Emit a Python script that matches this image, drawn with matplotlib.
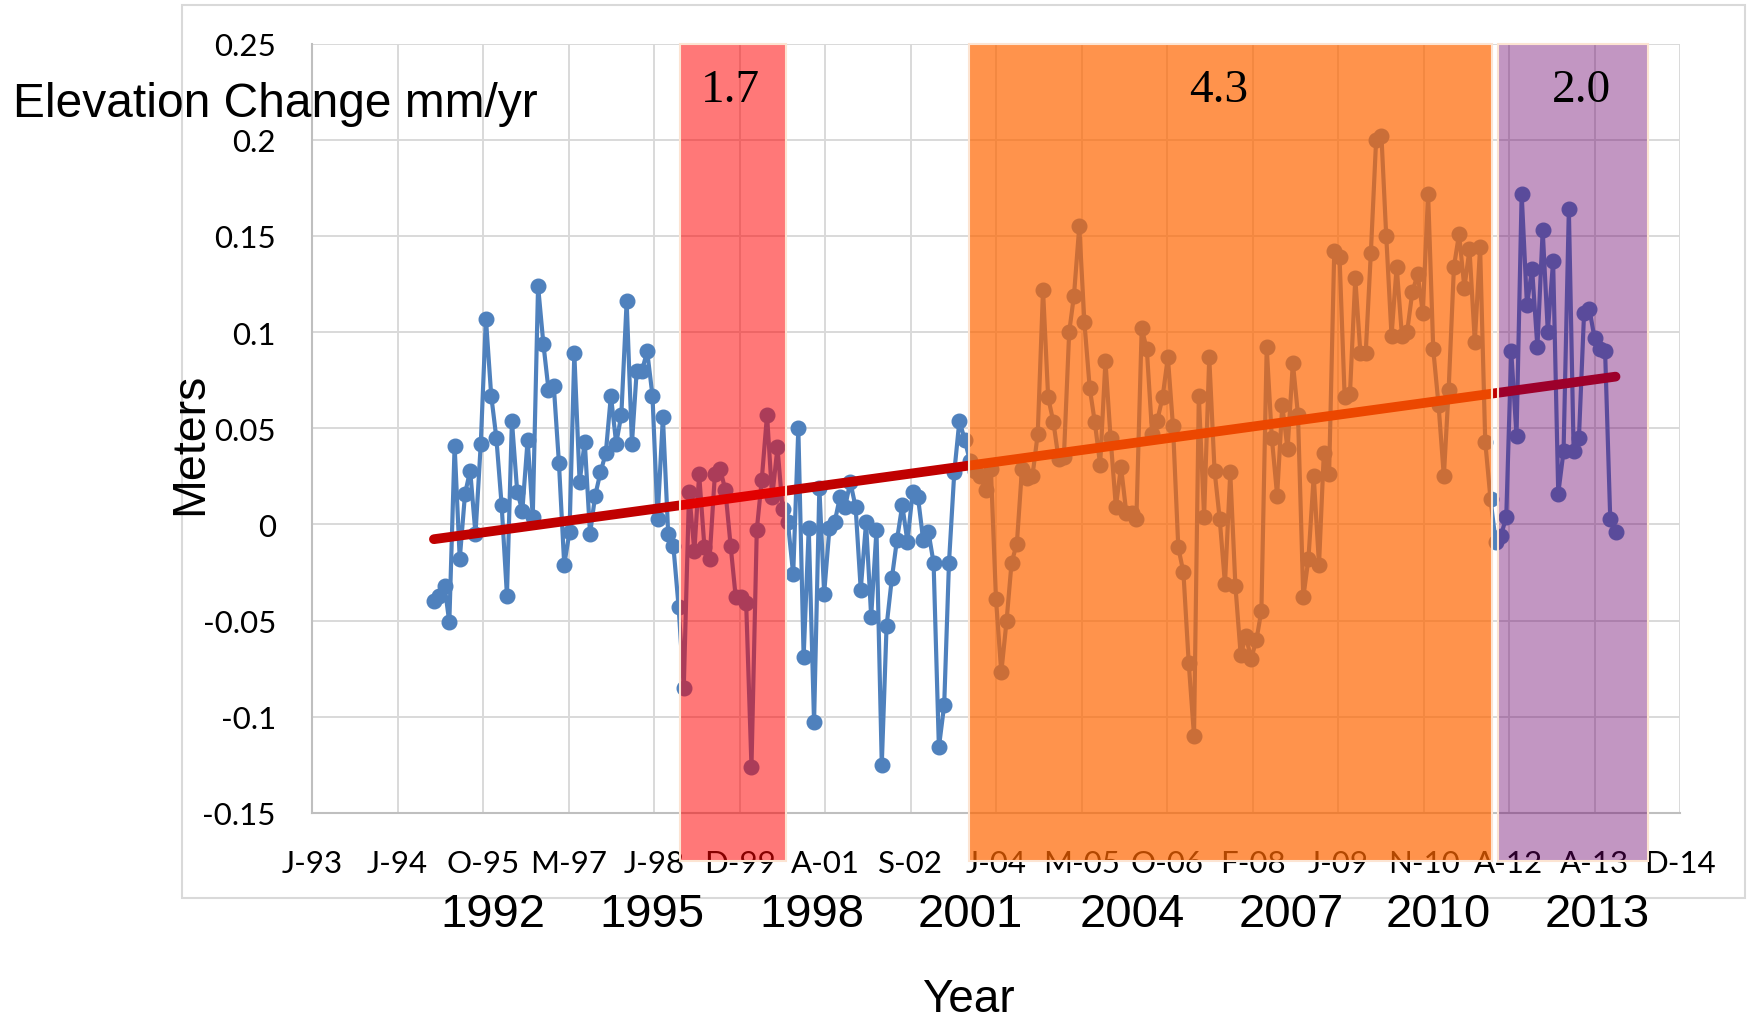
import numpy as np
import matplotlib
matplotlib.use('Agg')
import matplotlib.pyplot as plt
import matplotlib.dates as mdates
from matplotlib.patches import Rectangle

plt.rcParams['font.family'] = ['Liberation Sans', 'DejaVu Sans']

# monthly elevation change (m), Dec 1994 - Nov 2013
elevation = [
    -0.040, -0.037, -0.032, -0.051, 0.041, -0.018, 0.016, 0.028, -0.005, 0.042,
    0.107, 0.067, 0.045, 0.010, -0.037, 0.054, 0.017, 0.007, 0.044, 0.004,
    0.124, 0.094, 0.070, 0.072, 0.032, -0.021, -0.004, 0.089, 0.022, 0.043,
    -0.005, 0.015, 0.027, 0.037, 0.067, 0.042, 0.057, 0.116,
    0.042, 0.080, 0.080, 0.090, 0.067, 0.003, 0.056, -0.005, -0.011, -0.043,
    -0.085, 0.017, -0.014, 0.026, -0.012, -0.018, 0.026, 0.029, 0.018, -0.011,
    -0.038, -0.038, -0.041, -0.126, -0.003, 0.023, 0.057, 0.014, 0.040, 0.008,
    0.001, -0.026, 0.050, -0.069, -0.002, -0.103, 0.019, -0.036, -0.002,
    0.001, 0.014, 0.009, 0.022, 0.009, -0.034, 0.001, -0.048, -0.003, -0.125,
    -0.053, -0.028, -0.008, 0.010, -0.009, 0.017, 0.014, -0.008, -0.004, -0.020,
    -0.116, -0.094, -0.020, 0.027, 0.054, 0.044, 0.033, 0.028, 0.025, 0.018,
    0.029, -0.039, -0.077, -0.050, -0.020, -0.010, 0.029, 0.024, 0.025, 0.047,
    0.122, 0.066, 0.053, 0.034, 0.035, 0.100, 0.119, 0.155, 0.105, 0.071,
    0.053, 0.031, 0.085, 0.045, 0.009, 0.030, 0.006, 0.006, 0.003, 0.102,
    0.091, 0.047, 0.054, 0.066, 0.087, 0.051, -0.012, -0.025, -0.072, -0.110,
    0.067, 0.004, 0.087, 0.028, 0.003, -0.031, 0.027, -0.032, -0.068, -0.058,
    -0.070, -0.060, -0.045, 0.092, 0.045, 0.015, 0.062, 0.039, 0.084, 0.057,
    -0.038, -0.018, 0.025, -0.021, 0.037, 0.026, 0.142, 0.139, 0.066, 0.068,
    0.128, 0.089, 0.089, 0.141, 0.200, 0.202, 0.150, 0.098, 0.134, 0.098,
    0.100, 0.121, 0.130, 0.110, 0.172, 0.091, 0.062, 0.025, 0.070, 0.134,
    0.151, 0.123, 0.143, 0.095, 0.144, 0.043, 0.013,
    -0.009, -0.006, 0.004, 0.090, 0.046, 0.172, 0.114, 0.133, 0.092, 0.153,
    0.100, 0.137, 0.016, 0.038, 0.164, 0.038, 0.045, 0.110, 0.112, 0.097,
    0.091, 0.090, 0.003, -0.004,
]

months = np.arange('1994-12', '2013-12', dtype='datetime64[M]')
dates = months.astype('datetime64[D]') + 14

# excel date axis: 17 ticks, 500 days apart
axis_labels = ['J-93', 'J-94', 'O-95', 'M-97', 'J-98', 'D-99', 'A-01', 'S-02', 'J-04',
               'M-05', 'O-06', 'F-08', 'J-09', 'N-10', 'A-12', 'A-13', 'D-14']
axis_start = np.datetime64('1993-01-01')
tick_step_days = 500

y_ticks = [-0.15, -0.1, -0.05, 0, 0.05, 0.1, 0.15, 0.2, 0.25]
y_labels = ['-0.15', '-0.1', '-0.05', '0', '0.05', '0.1', '0.15', '0.2', '0.25']

# shaded periods and their rate (mm/yr)
period_start = ['1998-11-23', '2003-07-12', '2011-12-27']
period_end = ['2000-08-02', '2011-11-25', '2014-05-26']
period_rate = ['1.7', '4.3', '2.0']
period_color = [(1.0, 0.0, 0.0, 0.53), (1.0, 0.4, 0.0, 0.70), (0.42, 0.0, 0.42, 0.41)]

year_labels = ['1992', '1995', '1998', '2001', '2004', '2007', '2010', '2013']

W, H = 1748, 1020
fig = plt.figure(figsize=(W / 100, H / 100), dpi=100)
ax = fig.add_axes([312 / W, 1 - 813.8 / H, 1368 / W, 769.2 / H])

# outer chart frame
fig.add_artist(Rectangle((182 / W, 1 - 899 / H), 1563 / W, 893 / H, transform=fig.transFigure,
                         fill=False, edgecolor='#D9D9D9', lw=1.5))

ax.plot(dates, elevation, color='#4F81BD', lw=3, marker='o', ms=10.5, zorder=2)

# linear trend
xn = mdates.date2num(dates)
coef = np.polyfit(xn, elevation, 1)
ends = xn[[0, -1]]
ax.plot(ends, np.polyval(coef, ends), color='#C00000', lw=7, solid_capstyle='round', zorder=2.5)

ticks = axis_start + np.arange(len(axis_labels)) * np.timedelta64(tick_step_days, 'D')
tick_num = mdates.date2num(ticks)
ax.set_xlim(tick_num[0], tick_num[-1])
ax.set_xticks(tick_num)
ax.set_xticklabels(axis_labels)
ax.set_ylim(-0.15, 0.25)
ax.set_yticks(y_ticks)
ax.set_yticklabels(y_labels)
ax.grid(True, color='#D9D9D9', lw=1.4)
ax.tick_params(length=0, labelsize=22.5)
ax.tick_params(axis='x', pad=26)
ax.tick_params(axis='y', pad=26)
for lab in ax.get_xticklabels() + ax.get_yticklabels():
    lab.set_family(['Lato', 'DejaVu Sans'])
for side in ['top', 'right']:
    ax.spines[side].set_visible(False)
for side in ['left', 'bottom']:
    ax.spines[side].set_color('#BFBFBF')
    ax.spines[side].set_linewidth(1.5)

# shaded periods, drawn over the series and down over the tick labels
band_bottom = -0.0627
for s, e, c in zip(period_start, period_end, period_color):
    x0 = mdates.date2num(np.datetime64(s))
    x1 = mdates.date2num(np.datetime64(e))
    ax.add_patch(Rectangle((x0, band_bottom), x1 - x0, 1 - band_bottom,
                           transform=ax.get_xaxis_transform(), clip_on=False,
                           facecolor=c, edgecolor='#FCE4D2', lw=1.5, zorder=3))

rate_x = [730, 1219, 1581]
for r, px in zip(period_rate, rate_x):
    fig.text(px / W, 1 - 102 / H, r, ha='center', va='baseline', fontsize=34,
             family='Liberation Serif', zorder=5)

fig.text(13 / W, 1 - 117 / H, 'Elevation Change mm/yr', ha='left', va='baseline', fontsize=34.5)
fig.text(190 / W, 1 - 444 / H, 'Meters', rotation=90, ha='center', va='center', fontsize=33.5)

year_x = [493, 652, 812, 970, 1132, 1291, 1438, 1597]
for lab, px in zip(year_labels, year_x):
    fig.text(px / W, 1 - 915 / H, lab, ha='center', va='center', fontsize=34)
fig.text(968 / W, 1 - 1012 / H, 'Year', ha='center', va='baseline', fontsize=33)

fig.savefig('out.png', dpi=100)
